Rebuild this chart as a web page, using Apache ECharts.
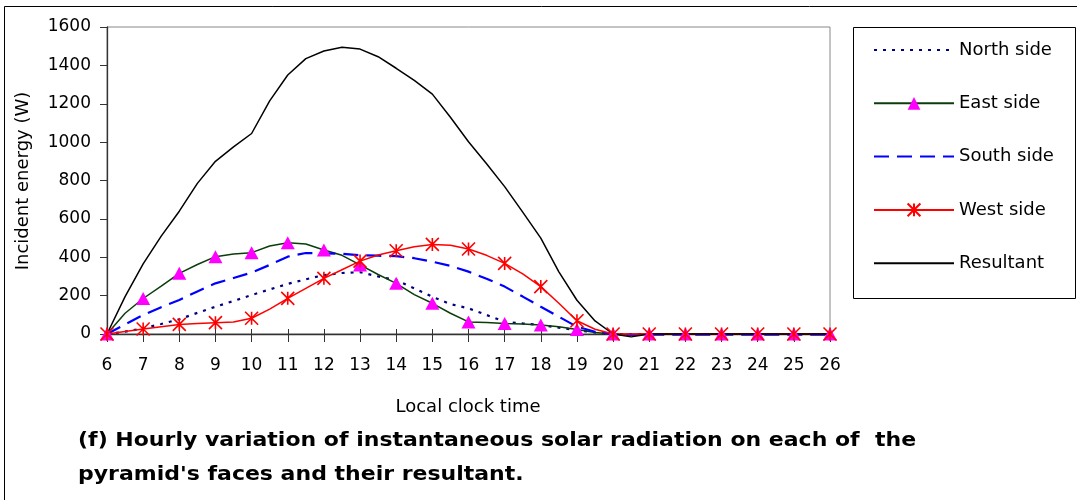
<!DOCTYPE html>
<html>
<head>
<meta charset="utf-8">
<script src="https://cdn.jsdelivr.net/npm/echarts@6/dist/echarts.min.js"></script>
<style>
html,body{margin:0;padding:0;background:#fff;}
#c{width:1077px;height:500px;}
</style>
</head>
<body>
<div id="c"></div>
<script>
// Local clock time (half-hour resolution)
var hours = [6,6.5,7,7.5,8,8.5,9,9.5,10,10.5,11,11.5,12,12.5,13,13.5,14,14.5,15,15.5,16,16.5,17,17.5,18,18.5,19,19.5,20,20.5,21,21.5,22,22.5,23,23.5,24,24.5,25,25.5,26];
var north = [0,12,30,52,77,110,142,172,203,232,261,285,307,318,322,300,281,238,194,156,134,99,64,55,47,33,20,8,0,0,0,0,0,0,0,0,0,0,0,0,0];
var east = [0,108,185,250,316,362,403,417,424,459,476,469,438,410,360,310,264,205,160,108,63,60,55,52,47,38,23,8,0,-5,0,0,0,0,0,0,0,0,0,0,0];
var south = [0,50,99,140,177,222,264,292,320,360,403,422,420,418,410,408,406,395,377,355,325,288,247,195,142,90,38,12,0,-4,-4,-4,-4,-4,-4,-4,-4,-4,-4,-4,-4];
var west = [0,13,26,38,50,55,59,62,82,130,186,238,290,335,380,412,434,455,467,462,443,410,368,313,247,160,69,25,0,0,0,0,0,0,0,0,0,0,0,0,0];
var resultant = [0,195,365,510,640,785,900,975,1045,1215,1350,1435,1475,1495,1485,1445,1385,1322,1250,1130,1002,887,768,635,500,324,176,68,0,-15,0,0,0,0,0,0,0,0,0,0,0];
var seriesNames = ['North side','East side','South side','West side','Resultant'];
var yAxisTitle = 'Incident energy (W)';
var xAxisTitle = 'Local clock time';
var captionLines = ["(f) Hourly variation of instantaneous solar radiation on each of  the", "pyramid's faces and their resultant."];

function pts(arr, marked){
  return hours.map(function(h,i){
    var d = {value:[h, arr[i]]};
    if(!marked || h % 1 !== 0) d.symbol = 'none';
    return d;
  });
}
var FONT = 'DejaVu Sans';
var asterisk = 'path://M0,-10L0,10M-10,-10L10,10M-10,10L10,-10';

var chart = echarts.init(document.getElementById('c'), null, {renderer:'canvas'});
chart.setOption({
  animation:false,
  backgroundColor:'#fff',
  grid:{left:107, top:27, right:247, bottom:166, show:true, borderColor:'#888', borderWidth:1},
  xAxis:[{
    type:'value', min:6, max:26, interval:1,
    axisLine:{show:true, onZero:false, lineStyle:{color:'#333', width:1.3}},
    axisTick:{show:true, length:8, lineStyle:{color:'#333'}},
    axisLabel:{fontFamily:FONT, fontSize:17, color:'#000', margin:23},
    splitLine:{show:false}
  },{
    type:'value', min:6, max:26, interval:1, position:'bottom',
    axisLine:{show:false},
    axisTick:{show:true, inside:true, length:5, lineStyle:{color:'#333'}},
    axisLabel:{show:false}, splitLine:{show:false}
  }],
  yAxis:{
    type:'value', min:0, max:1600, interval:200,
    axisLine:{show:true, lineStyle:{color:'#333', width:1.3}},
    axisTick:{show:true, length:7, lineStyle:{color:'#333'}},
    axisLabel:{fontFamily:FONT, fontSize:17, color:'#000', margin:16, formatter:function(v){return String(v);}},
    splitLine:{show:false}
  },
  legend:{
    orient:'vertical', left:873, top:40, padding:0, itemGap:33.3,
    itemWidth:80, itemHeight:16,
    textStyle:{fontFamily:FONT, fontSize:18, color:'#000', lineHeight:20},
    data:[
      {name:seriesNames[0], itemStyle:{opacity:0}},
      {name:seriesNames[1]},
      {name:seriesNames[2], itemStyle:{opacity:0}},
      {name:seriesNames[3]},
      {name:seriesNames[4], itemStyle:{opacity:0}}
    ]
  },
  series:[
    {name:seriesNames[0], type:'line', data:pts(north,false), symbol:'none', clip:false,
     lineStyle:{color:'#000080', width:2.2, type:[3,6]}, itemStyle:{color:'#000080'}},
    {name:seriesNames[1], type:'line', data:pts(east,true), symbol:'triangle', symbolSize:[14,13], showAllSymbol:true, clip:false,
     lineStyle:{color:'#0b3d0b', width:1.5}, itemStyle:{color:'#ff00ff', borderWidth:0}},
    {name:seriesNames[2], type:'line', data:pts(south,false), symbol:'none', clip:false,
     lineStyle:{color:'#0000ff', width:2.2, type:[15,8]}, itemStyle:{color:'#0000ff'}},
    {name:seriesNames[3], type:'line', data:pts(west,true), symbol:asterisk, symbolSize:13, showAllSymbol:true, clip:false,
     lineStyle:{color:'#ff0000', width:1.5}, itemStyle:{color:'#ff0000', borderColor:'#ff0000', borderWidth:1.6}},
    {name:seriesNames[4], type:'line', data:pts(resultant,false), symbol:'none', clip:false,
     lineStyle:{color:'#000', width:1.5}, itemStyle:{color:'#000'}}
  ],
  graphic:[
    {type:'rect', silent:true, z:-1, shape:{x:4.5, y:6.5, width:1200, height:700}, style:{fill:'#fff', stroke:'#000', lineWidth:1}},
    {type:'rect', silent:true, shape:{x:853.5, y:27.5, width:222, height:271}, style:{fill:'none', stroke:'#000', lineWidth:1}},
    {type:'text', x:23, y:181, rotation:Math.PI/2, style:{text:yAxisTitle, font:'18px "DejaVu Sans"', fill:'#000', align:'center', verticalAlign:'middle'}},
    {type:'text', x:468, y:407, style:{text:xAxisTitle, font:'18px "DejaVu Sans"', fill:'#000', align:'center', verticalAlign:'middle'}},
    {type:'text', x:78, y:441, scaleX:1.1, style:{text:captionLines[0], font:'bold 20px "DejaVu Sans"', fill:'#000', align:'left', verticalAlign:'middle'}},
    {type:'text', x:78, y:475, scaleX:1.1, style:{text:captionLines[1], font:'bold 20px "DejaVu Sans"', fill:'#000', align:'left', verticalAlign:'middle'}}
  ]
});
</script>
</body>
</html>
